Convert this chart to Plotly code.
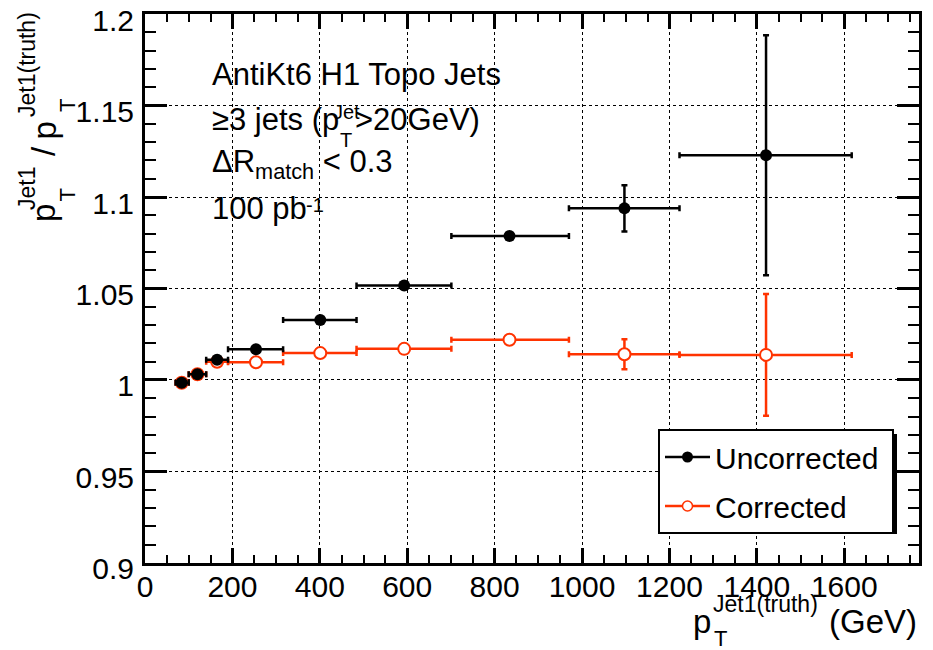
import plotly.graph_objects as go

# ---------------- data ----------------
pt_center = [84, 120, 165, 254, 401, 593, 834, 1097, 1421]
bin_lo = [70, 100, 140, 190, 316, 484, 701, 970, 1223]
bin_hi = [100, 140, 190, 316, 484, 701, 970, 1223, 1617]

ratio_uncorr = [0.9985, 1.0031, 1.0110, 1.0168, 1.0328, 1.0516, 1.0787, 1.0938, 1.1229]
err_uncorr = [0.0005, 0.0005, 0.0005, 0.0005, 0.0005, 0.0005, 0.0005, 0.0126, 0.0656]

ratio_corr = [0.9985, 1.0031, 1.0100, 1.0097, 1.0147, 1.0170, 1.0220, 1.0141, 1.0137]
err_corr = [0.0005, 0.0005, 0.0005, 0.0005, 0.0005, 0.0005, 0.0005, 0.0082, 0.0333]

series_names = ["Uncorrected", "Corrected"]

# ---------------- style ----------------
FONT = "Liberation Sans, Arial, Helvetica, sans-serif"
RED = "#ff3300"
W, H = 933, 650
L, R, T, B = 145, 919, 14, 563


def px(x):
    return (x - L) / (R - L)


def py(y):
    return (B - y) / (B - T)


xerr_plus = [h - c for h, c in zip(bin_hi, pt_center)]
xerr_minus = [c - l for c, l in zip(pt_center, bin_lo)]

fig = go.Figure()

# Corrected (drawn first, underneath)
fig.add_trace(go.Scatter(
    x=pt_center, y=ratio_corr, mode="markers", showlegend=False,
    marker=dict(symbol="circle", size=12, color="white", line=dict(color=RED, width=2)),
    error_x=dict(type="data", array=xerr_plus, arrayminus=xerr_minus, color=RED, thickness=2.5, width=3),
    error_y=dict(type="data", array=err_corr, color=RED, thickness=2.5, width=3),
))
# Uncorrected
fig.add_trace(go.Scatter(
    x=pt_center, y=ratio_uncorr, mode="markers", showlegend=False,
    marker=dict(symbol="circle", size=12, color="black"),
    error_x=dict(type="data", array=xerr_plus, arrayminus=xerr_minus, color="black", thickness=2.5, width=3),
    error_y=dict(type="data", array=err_uncorr, color="black", thickness=2.5, width=3),
))

# legend entries
fig.add_trace(go.Scatter(
    x=[None], y=[None], mode="lines+markers", name=series_names[0] + "\u00a0", legendrank=1,
    legendgroup="a",
    line=dict(color="black", width=2.5),
    marker=dict(symbol="circle", size=11, color="black"),
))
fig.add_trace(go.Scatter(
    x=[None], y=[None], mode="lines+markers", name=series_names[1], legendrank=2,
    legendgroup="b",
    line=dict(color=RED, width=2.5),
    marker=dict(symbol="circle", size=10, color="white", line=dict(color=RED, width=1.5)),
))

axis_common = dict(
    showline=True, linewidth=3, linecolor="black", mirror="allticks",
    ticks="inside", tickcolor="black", tickwidth=2.5,
    showgrid=True, gridcolor="black", griddash="dot", gridwidth=1,
    zeroline=False, automargin=False,
    tickfont=dict(size=30, family=FONT, color="black"),
)

fig.update_xaxes(
    range=[0, 1771], dtick=200, tick0=0, ticklen=15,
    minor=dict(ticks="inside", ticklen=8, dtick=50, tickwidth=2, tickcolor="black", showgrid=False),
    ticklabelstandoff=-5,
    **axis_common,
)
fig.update_yaxes(
    range=[0.89995, 1.20005], dtick=0.05, tick0=0.9, ticklen=22, tickformat="~g",
    minor=dict(ticks="inside", ticklen=11, dtick=0.01, tickwidth=2, tickcolor="black", showgrid=False),
    ticklabelstandoff=2, ticklabelshift=6,
    **axis_common,
)

annotations = []


def text_at(txt, x_left, baseline, size, anchor="left"):
    annotations.append(dict(
        text=txt, x=px(x_left), y=py(baseline + 0.212 * size + 1),
        xref="paper", yref="paper", xanchor=anchor, yanchor="bottom",
        showarrow=False, font=dict(size=size, family=FONT, color="black"),
    ))


def text_center(txt, xc, yc, size, angle=0, anchor="center"):
    annotations.append(dict(
        text=txt, x=px(xc), y=py(yc), xref="paper", yref="paper",
        xanchor=anchor, yanchor="middle", textangle=angle,
        showarrow=False, font=dict(size=size, family=FONT, color="black"),
    ))


# info text
text_at("AntiKt6 H1 Topo Jets", 210, 86.7, 31)
text_at("≥3 jets (p", 210, 131.7, 31)
text_at("Jet", 331, 120, 20)
text_center("T", 346, 140, 20)
text_at("&gt;20GeV)", 353, 131.7, 31)
text_at("ΔR<sub>match</sub> &lt; 0.3", 210, 178, 31)
text_at("100 pb", 210, 220, 31)
text_center("-1", 304, 205, 20, anchor="left")

# x-axis title (pieces placed so sub/superscripts stack)
text_center("p", 702, 621.6, 33)
text_center("Jet1(truth)", 765, 604, 23)
text_center("T", 720, 638, 22)
text_center("(GeV)", 872.5, 621.6, 33)

# y-axis title (rotated pieces)
text_center("p", 43.6, 213.5, 33, angle=-90)
text_center("Jet1", 27, 189, 23, angle=-90)
text_center("T", 67.5, 195, 22, angle=-90)
text_center("/", 43.6, 151.5, 33, angle=-90)
text_center("p", 43.6, 131, 33, angle=-90)
text_center("Jet1(truth)", 27, 65, 23, angle=-90)
text_center("T", 67.5, 105.5, 22, angle=-90)

# legend shadow
shapes = [dict(
    type="rect", xref="paper", yref="paper", layer="above",
    x0=px(663), x1=px(897), y0=py(534), y1=py(434),
    fillcolor="black", line=dict(width=0),
)]

fig.update_layout(
    width=W, height=H, autosize=False,
    margin=dict(l=L, r=W - R, t=T, b=H - B, autoexpand=False),
    plot_bgcolor="white", paper_bgcolor="white",
    font=dict(family=FONT, color="black"),
    annotations=annotations, shapes=shapes,
    legend=dict(
        x=px(658), y=py(429), xanchor="left", yanchor="top",
        bgcolor="white", bordercolor="black", borderwidth=2,
        font=dict(size=30, family=FONT, color="black"),
        itemwidth=45, tracegroupgap=7, traceorder="grouped",
    ),
)

fig.write_html("out.html")
